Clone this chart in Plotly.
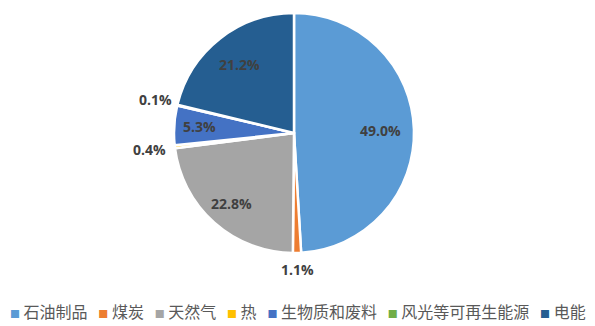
import math
import plotly.graph_objects as go

categories = ["石油制品", "煤炭", "天然气", "热", "生物质和废料", "风光等可再生能源", "电能"]
values = [49.0, 1.1, 22.8, 0.4, 5.3, 0.1, 21.2]
colors = ["#5B9BD5", "#ED7D31", "#A5A5A5", "#FFC000", "#4472C4", "#70AD47", "#255E91"]

# radial placement of each value label (fraction of radius)
label_radius = [0.72, 1.14, 0.79, 1.21, 0.79, 1.19, 0.73]

W, H = 595, 326
cx, cy, r = 294, 133, 120

fig = go.Figure(go.Pie(
    labels=categories,
    values=values,
    marker=dict(colors=colors, line=dict(color="white", width=2.5)),
    sort=False,
    direction="clockwise",
    rotation=0,
    textinfo="none",
    domain=dict(x=[(cx - r) / W, (cx + r) / W], y=[(H - cy - r) / H, (H - cy + r) / H]),
    showlegend=False,
    hoverinfo="label+value",
))

# value labels placed at each slice's mid angle
total = sum(values)
cum = 0.0
for v, rho in zip(values, label_radius):
    theta = 2 * math.pi * (cum + v / 2) / total
    cum += v
    px = cx + rho * r * math.sin(theta)
    py = cy - rho * r * math.cos(theta)
    fig.add_annotation(
        x=px / W, y=1 - py / H, xref="paper", yref="paper",
        xanchor="center", yanchor="middle",
        text=f"{v:.1f}%", showarrow=False,
        font=dict(family="Open Sans", size=14, color="#404040", weight="bold"),
    )

# legend row as rich text
parts = []
for c, lab in zip(colors, categories):
    parts.append(f"<span style='color:{c};font-size:10px'>■</span>&nbsp;{lab}")
legend_text = "&nbsp;&nbsp;&nbsp;".join(parts)

fig.add_annotation(
    x=0.5, y=(H - 311) / H, xref="paper", yref="paper",
    xanchor="center", yanchor="middle",
    text=legend_text, showarrow=False,
    font=dict(family="Noto Sans CJK SC", size=16, color="#595959"),
)

fig.update_layout(
    width=W, height=H,
    margin=dict(l=0, r=0, t=0, b=0),
    paper_bgcolor="white", plot_bgcolor="white",
)

fig.write_html("out.html")
